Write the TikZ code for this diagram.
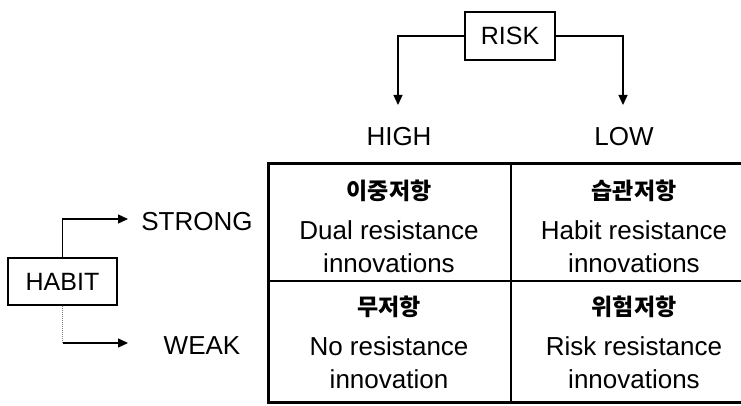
\documentclass[tikz,border=0pt]{standalone}
\usepackage{fontspec}
\setmainfont{Liberation Sans}
\newfontfamily\kr{Noto Sans CJK KR}
\usetikzlibrary{arrows.meta}
\begin{document}
\begin{tikzpicture}[x=1pt,y=-1pt,
  lbl/.style={font=\fontsize{26}{30}\selectfont, inner sep=0pt},
  boxnode/.style={draw, line width=1.5pt, inner sep=0pt, font=\fontsize{25}{30}\selectfont},
  conn/.style={line width=1.3pt, -{Triangle[length=10pt,width=9pt]}},
  cell/.style={align=center, inner sep=0pt, font=\fontsize{26}{33}\selectfont},
  thinline/.style={line width=1.5pt},
  thickline/.style={line width=3pt}]
\useasboundingbox (0,0) rectangle (741,406);
% boxes
\node[boxnode, minimum width=90pt, minimum height=48pt] (risk) at (510,36) {RISK};
\node[boxnode, minimum width=109pt, minimum height=47pt] (habit) at (62.5,281.5) {HABIT};
% labels
\node[lbl] (high) at (399,137) {HIGH};
\node[lbl] (low) at (624,137) {LOW};
\node[lbl] (strong) at (197,222) {STRONG};
\node[lbl] (weak) at (202,346) {WEAK};
% arrow ends
\coordinate (hightip) at (398,105);
\coordinate (lowtip) at (623,105);
\coordinate (strongtip) at (128,219);
\coordinate (weaktip) at (128,343);
\coordinate (weakcorner) at (62.5,343);
\draw[conn] (risk.west) -| (hightip);
\draw[conn] (risk.east) -| (lowtip);
\draw[conn] (habit.north) |- (strongtip);
\draw[line width=1pt, densely dotted, gray] (habit.south) -- (weakcorner);
\draw[conn] (weakcorner) -- (weaktip);
% grid
\coordinate (gtl) at (268,164);
\coordinate (gbr) at (752,402);
\coordinate (gmt) at (511,164);
\coordinate (gmb) at (511,402);
\coordinate (gml) at (268,281);
\coordinate (gmr) at (752,281);
\draw[thinline] (gmt) -- (gmb);
\draw[thinline] (gml) -- (gmr);
\draw[thickline] (gtl) rectangle (gbr);
% cells
\node[cell] (c11) at (389,226) {{\kr\bfseries\fontsize{23}{26}\selectfont 이중저항}\\[7pt]Dual resistance\\innovations};
\node[cell] (c12) at (634,226) {{\kr\bfseries\fontsize{23}{26}\selectfont 습관저항}\\[7pt]Habit resistance\\innovations};
\node[cell] (c21) at (389,342) {{\kr\bfseries\fontsize{23}{26}\selectfont 무저항}\\[7pt]No resistance\\innovation};
\node[cell] (c22) at (634,342) {{\kr\bfseries\fontsize{23}{26}\selectfont 위험저항}\\[7pt]Risk resistance\\innovations};
\end{tikzpicture}
\end{document}
